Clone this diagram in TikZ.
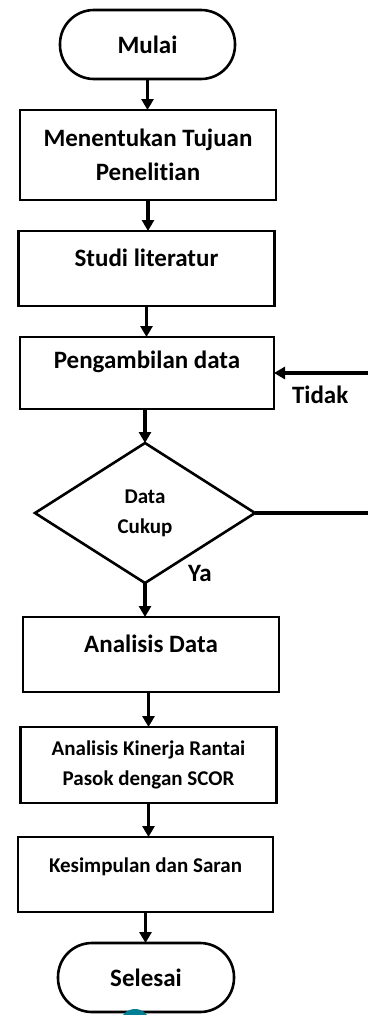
\documentclass[tikz,border=0pt]{standalone}
\usepackage{fontspec}
\setmainfont{Carlito}[Ligatures=NoCommon]
\usetikzlibrary{arrows.meta,shapes.geometric}
\definecolor{c007f94}{RGB}{0,127,148}

\begin{document}
\begin{tikzpicture}[y=1pt,x=1pt,yscale=-1, inner sep=0pt, outer sep=0pt,
  txt/.style={font=\bfseries\fontsize{25}{34}\selectfont, align=center},
  small/.style={font=\bfseries\fontsize{21}{30}\selectfont},
  box/.style={txt, draw=black, line width=2.6pt, minimum width=256pt,
    minimum height=75pt},
  topbox/.style={box, text height=16pt, text depth=#1},
  ends/.style={txt, draw=black, line width=2.6pt, rounded corners=34pt,
    minimum width=175pt, minimum height=69pt},
  choice/.style={txt, small, diamond, draw=black, line width=2.6pt,
    minimum width=220pt, minimum height=140pt},
  flow/.style={line width=3.5pt, -{Triangle[width=12pt,length=11pt]}}]
  \useasboundingbox (0,0) rectangle (367,1015);

  \node[ends] (mulai) at (147.5,44.5) {Mulai};
  \node[box, minimum height=90pt] (tujuan) at (148,155)
    {Menentukan Tujuan\\Penelitian};
  \node[topbox=21pt] (studi) at (146.5,268.5) {Studi literatur};
  \node[topbox=26pt, minimum width=254pt, minimum height=72pt] (ambil)
    at (147,373) {Pengambilan data};
  \node[choice] (cukup) at (145,513) {Data\\Cukup};
  \node[topbox=21pt] (analisis) at (151,654.5) {Analisis Data};
  \node[box, small, minimum height=76pt] (kinerja) at (148.5,765)
    {Analisis Kinerja Rantai\\Pasok dengan SCOR};
  \node[topbox=21pt, small, minimum width=255pt] (simpul) at (145.5,874.5)
    {Kesimpulan dan Saran};
  \node[ends, minimum width=176pt] (selesai) at (146,977.5) {Selesai};

  \node[txt, anchor=base west] (tidak) at (292,403) {Tidak};
  \node[txt, anchor=base west] (ya) at (188,581) {Ya};

  \draw[flow] (mulai.south) -- (mulai.south |- tujuan.north);
  \draw[flow] (tujuan.south) -- (tujuan.south |- studi.north);
  \draw[flow] (studi.south) -- (studi.south |- ambil.north);
  \draw[flow] (ambil.south -| cukup) -- (cukup.north);
  \draw[flow] (cukup.south) -- (cukup.south |- analisis.north);
  \draw[flow] (analisis.south -| kinerja) -- (kinerja.north);
  \draw[flow] (kinerja.south) -- (kinerja.south |- simpul.north);
  \draw[flow] (simpul.south) -- (simpul.south |- selesai.north);
  \draw[flow] (cukup.east) -- ++(116,0) |- (ambil.east);

  \fill[c007f94] (135,1024) circle (15pt);
\end{tikzpicture}
\end{document}
